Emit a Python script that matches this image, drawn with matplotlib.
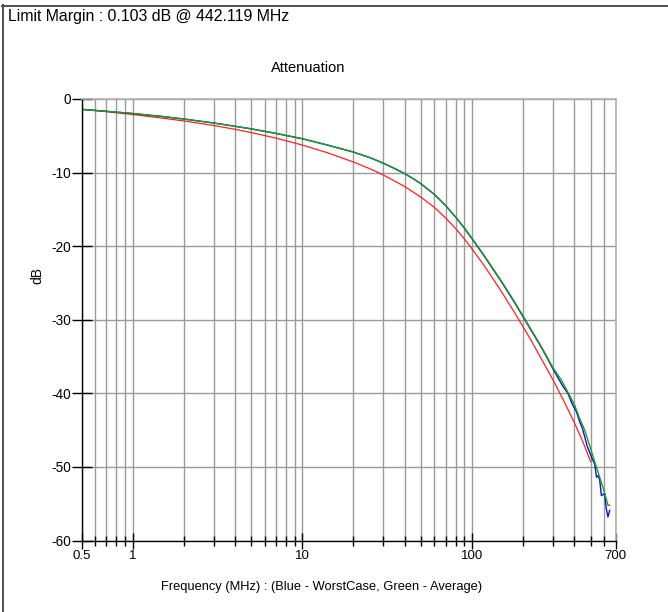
import matplotlib
matplotlib.use('Agg')
import matplotlib.pyplot as plt
from matplotlib.lines import Line2D
from matplotlib.ticker import FixedLocator, NullFormatter

plt.rcParams['font.family'] = ['Liberation Sans', 'DejaVu Sans']

# ---- data ----
limit_freq = [0.5, 0.7, 1, 1.5, 2, 3, 4, 5, 7, 10, 14, 20, 25, 30, 40, 50, 60, 70, 80, 90,
              100, 120, 150, 175, 200, 225, 250, 275, 310, 350, 400, 450, 500]
limit_db = [-1.40, -1.72, -2.11, -2.60, -2.98, -3.60, -4.11, -4.56, -5.32, -6.26, -7.29,
            -8.56, -9.48, -10.32, -11.88, -13.34, -14.73, -16.19, -17.6, -19.0, -20.36,
            -22.9, -26.28, -28.75, -30.97, -32.97, -34.9, -36.6, -38.8, -41.2, -43.95,
            -46.6, -49.3]

worst_freq = [0.5, 0.7, 1, 1.5, 2, 3, 4, 5, 7, 10, 14, 20, 25, 30, 35, 40, 45, 50, 60, 70,
              80, 90, 100, 120, 150, 175, 200, 225, 250, 275, 300, 344, 367, 390, 412, 431,
              446, 461, 477, 493, 510, 528, 541, 553, 565, 578, 604, 618, 632, 647]
worst_db = [-1.40, -1.67, -1.97, -2.38, -2.72, -3.26, -3.70, -4.06, -4.68, -5.40, -6.25,
            -7.21, -7.97, -8.72, -9.45, -10.13, -10.83, -11.52, -12.97, -14.50, -16.05,
            -17.55, -19.0, -21.6, -24.95, -27.4, -29.6, -31.6, -33.35, -35.05, -36.7,
            -39.1, -40.0, -41.5, -42.5, -43.9, -44.7, -45.9, -47.2, -48.0, -48.9, -49.6,
            -51.4, -51.2, -51.8, -53.9, -53.6, -55.7, -56.8, -55.9]

avg_freq = [0.5, 0.7, 1, 1.5, 2, 3, 4, 5, 7, 10, 14, 20, 25, 30, 35, 40, 45, 50, 60, 70, 80,
            90, 100, 120, 150, 175, 200, 225, 250, 275, 300, 336, 370, 402, 430, 461, 493,
            528, 565, 598, 632, 647]
avg_db = [-1.40, -1.67, -1.97, -2.38, -2.72, -3.26, -3.70, -4.06, -4.68, -5.40, -6.25,
          -7.21, -7.97, -8.72, -9.45, -10.13, -10.83, -11.52, -12.97, -14.50, -16.03,
          -17.50, -18.93, -21.52, -24.87, -27.3, -29.5, -31.5, -33.25, -34.95, -36.55,
          -38.2, -40.0, -41.6, -43.4, -45.0, -47.1, -49.3, -51.4, -53.2, -55.2, -55.2]

x_major = [0.5, 1, 10, 100, 700]
x_major_labels = ['0.5', '1', '10', '100', '700']
x_minor = [0.6, 0.7, 0.8, 0.9, 2, 3, 4, 5, 6, 7, 8, 9, 20, 30, 40, 50, 60, 70, 80, 90,
           200, 300, 400, 500, 600]
y_major = [0, -10, -20, -30, -40, -50, -60]
y_major_labels = ['0', '-10', '-20', '-30', '-40', '-50', '-60']

header_text = 'Limit Margin : 0.103 dB @ 442.119 MHz'
title_text = 'Attenuation'
xlabel_text = 'Frequency (MHz) : (Blue - WorstCase, Green - Average)'
ylabel_text = 'dB'

W, H = 668, 612
fig = plt.figure(figsize=(W / 100, H / 100), dpi=100)

L, R, T, B = 81.5, 615.5, 99.0, 540.5
ax = fig.add_axes([L / W, 1 - B / H, (R - L) / W, (B - T) / H])
ax.set_xscale('log')
ax.set_xlim(0.5, 700)
ax.set_ylim(-60, 0)

ax.xaxis.set_major_locator(FixedLocator(x_major))
ax.set_xticklabels(x_major_labels)
ax.xaxis.set_minor_locator(FixedLocator(x_minor))
ax.xaxis.set_minor_formatter(NullFormatter())
ax.set_yticks(y_major)
ax.set_yticklabels(y_major_labels)

grid_col = '#9a9a9a'
ax.grid(True, which='both', axis='x', color=grid_col, linewidth=1.0)
ax.grid(True, which='major', axis='y', color=grid_col, linewidth=1.0)
ax.set_axisbelow(True)

ax.tick_params(axis='x', which='major', direction='inout', length=11, width=1.0,
               color='black', labelsize=9.5, pad=1)
ax.tick_params(axis='x', which='minor', direction='inout', length=7, width=1.0, color='black')
ax.tick_params(axis='y', which='major', direction='inout', length=14.4, width=1.0,
               color='black', labelsize=9.8, pad=0.5)

for s in ['top', 'right']:
    ax.spines[s].set_color('#b0b0b0')
    ax.spines[s].set_linewidth(1.2)
for s in ['left', 'bottom']:
    ax.spines[s].set_color('black')
    ax.spines[s].set_linewidth(1.0)

ax.plot(limit_freq, limit_db, color='#ff2020', linewidth=0.9)
ax.plot(worst_freq, worst_db, color='#1010e0', linewidth=1.0)
ax.plot(avg_freq, avg_db, color='#1aa01a', linewidth=1.0)

fig.text(8 / W, 1 - 17 / H, header_text, ha='left', va='center', fontsize=11.4)
fig.text(308 / W, 1 - 68 / H, title_text, ha='center', va='center', fontsize=10.5)
fig.text(322 / W, 1 - 587 / H, xlabel_text, ha='center', va='center', fontsize=9.3)
fig.text(37 / W, 1 - 276 / H, ylabel_text, ha='center', va='center', rotation=90, fontsize=10)

# outer frame (left and top edges visible)
fig.add_artist(Line2D([3 / W, 3 / W], [0, 1 - 5 / H], color='#505050', linewidth=1.4,
                      transform=fig.transFigure))
fig.add_artist(Line2D([2 / W, 1], [1 - 5.5 / H, 1 - 5.5 / H], color='#505050', linewidth=1.4,
                      transform=fig.transFigure))

fig.savefig('out.png', dpi=100)
